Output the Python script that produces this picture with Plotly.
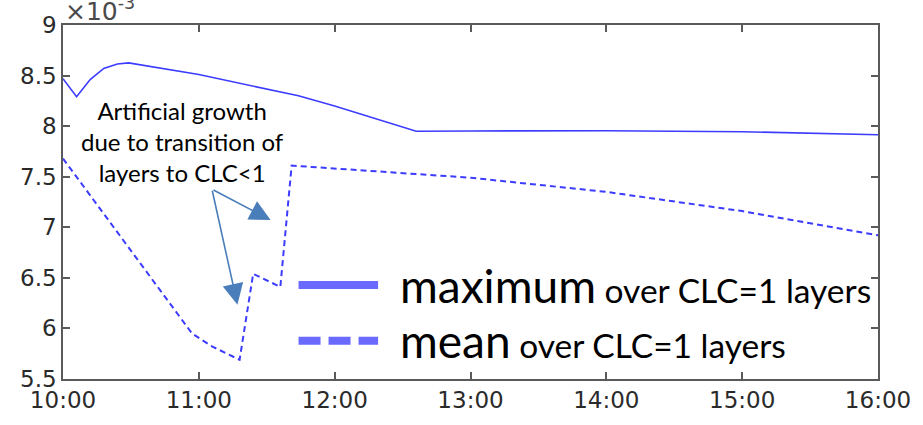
import plotly.graph_objects as go

DAY = "2000-01-01 "

# maximum over CLC=1 layers
max_time = ["10:00", "10:06", "10:12", "10:18", "10:24", "10:29", "11:00", "11:44",
            "12:00", "12:36", "13:00", "14:00", "15:00", "16:00"]
max_val = [8.47, 8.29, 8.46, 8.57, 8.615, 8.625, 8.51, 8.30,
           8.20, 7.95, 7.952, 7.955, 7.945, 7.915]

# mean over CLC=1 layers
mean_time = ["10:00", "10:57", "11:06", "11:18", "11:24", "11:36", "11:41",
             "12:00", "13:00", "14:00", "15:00", "16:00"]
mean_val = [7.68, 5.95, 5.82, 5.69, 6.54, 6.41, 7.61,
            7.58, 7.49, 7.35, 7.16, 6.92]

y_ticks = [5.5, 6, 6.5, 7, 7.5, 8, 8.5, 9]
y_tick_labels = ["5.5", "6", "6.5", "7", "7.5", "8", "8.5", "9"]
x_tick_labels = ["10:00", "11:00", "12:00", "13:00", "14:00", "15:00", "16:00"]

note_text = "Artificial growth<br>due to transition of<br>layers to CLC<1"
legend_names = ["maximum", "mean"]
legend_suffix = " over CLC=1 layers"

LINE_BLUE = "#3c3cff"
LEG_BLUE = "#6a6aff"
ARROW_BLUE = "#4a7ebb"
AXIS_GRAY = "#5a5a5a"
TXT = "#2a2a2a"

fig = go.Figure()
fig.add_trace(go.Scatter(x=[DAY + t for t in max_time], y=max_val, mode="lines",
                         line=dict(color=LINE_BLUE, width=1.6), name="maximum"))
fig.add_trace(go.Scatter(x=[DAY + t for t in mean_time], y=mean_val, mode="lines",
                         line=dict(color=LINE_BLUE, width=2, dash="6px,4px"), name="mean"))

fig.update_layout(
    width=923, height=425,
    margin=dict(l=63, r=40, t=25, b=43),
    paper_bgcolor="white", plot_bgcolor="white",
    showlegend=False,
    font=dict(family="DejaVu Sans", size=23, color=TXT),
)
fig.update_xaxes(
    range=[DAY + "10:00", DAY + "16:00"],
    tickvals=[DAY + t for t in x_tick_labels], ticktext=x_tick_labels,
    showgrid=False, zeroline=False,
    showline=True, linecolor=AXIS_GRAY, linewidth=1.5, mirror="ticks",
    ticks="inside", ticklen=7, tickcolor=AXIS_GRAY, tickwidth=1.5,
    tickfont=dict(family="DejaVu Sans", size=23, color=TXT),
)
fig.update_yaxes(
    range=[5.5, 9],
    tickvals=y_ticks, ticktext=y_tick_labels,
    showgrid=False, zeroline=False,
    showline=True, linecolor=AXIS_GRAY, linewidth=1.5, mirror="ticks",
    ticks="inside", ticklen=7, tickcolor=AXIS_GRAY, tickwidth=1.5,
    tickfont=dict(family="DejaVu Sans", size=23, color=TXT),
)

# exponent label
fig.add_annotation(xref="paper", yref="paper", x=0.0, y=0.992, xanchor="left", yanchor="bottom",
                   text="×10<sup>-3</sup>", showarrow=False,
                   font=dict(family="DejaVu Sans", size=25, color="#4a4a4a"))

# explanatory note
fig.add_annotation(x=DAY + "10:53", y=7.845, text=note_text, showarrow=False,
                   xanchor="center", yanchor="middle", align="center",
                   font=dict(family="Lato", size=24, color="black"))
# arrows
for head_t, head_v in [("11:31:42", 7.071), ("11:17:04", 6.235)]:
    fig.add_annotation(x=DAY + head_t, y=head_v, ax=DAY + "11:05:48", ay=7.376,
                       xref="x", yref="y", axref="x", ayref="y", text="",
                       showarrow=True, arrowhead=2, arrowsize=2.6, arrowwidth=1.6,
                       arrowcolor=ARROW_BLUE, standoff=0)

# manual legend
leg_rows = [(0.2654, "solid"), (0.108, "22px,8px")]
for (yp, dash), name in zip(leg_rows, legend_names):
    fig.add_shape(type="line", xref="paper", yref="paper", x0=0.289, x1=0.3866, y0=yp, y1=yp,
                  line=dict(color=LEG_BLUE, width=8, dash=dash))
    fig.add_annotation(xref="paper", yref="paper", x=0.411, y=yp, xanchor="left", yanchor="middle",
                       text=name + "<span style='font-size:33.5px'>" + legend_suffix + "</span>",
                       showarrow=False, font=dict(family="Lato", size=46, color="black"))

fig.write_html("out.html")
